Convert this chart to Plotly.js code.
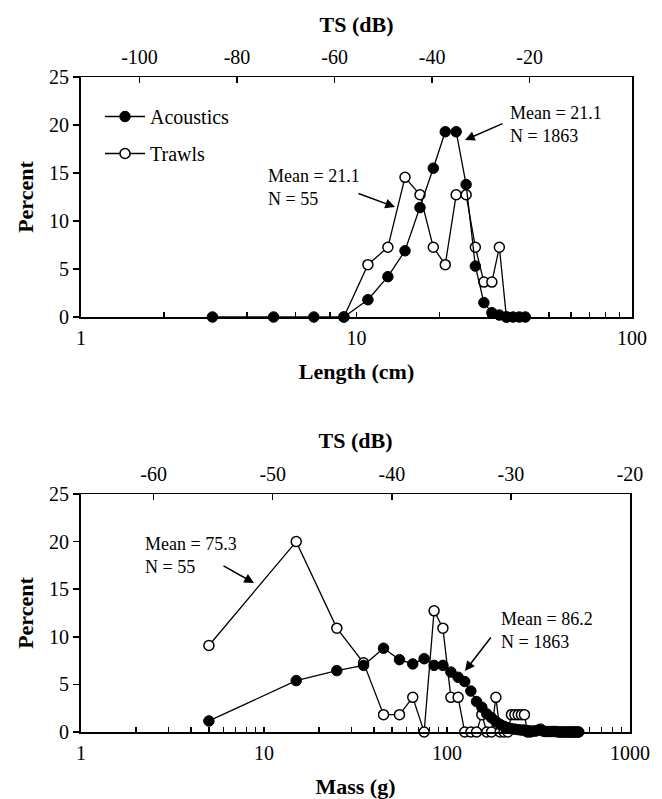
<!DOCTYPE html>
<html><head><meta charset="utf-8">
<script src="https://cdn.plot.ly/plotly-3.0.1.min.js"></script>
<style>body{margin:0;background:#fff}</style>
</head><body><div id="chart" style="width:662px;height:799px"></div>
<script>
// ---- Top panel: length distribution ----
const lengthCm = [3,5,7,9,11,13,15,17,19,21,23,25,27,29,31,33,35,37,39,41];
const lengthAcoustics = [0,0,0,0,1.8,4.2,6.9,11.4,15.5,19.3,19.3,13.8,5.3,1.5,0.45,0.2,0,0,0,0];
const lengthTrawlsCm = [9,11,13,15,17,19,21,23,25,27,29,31,33,35];
const lengthTrawls = [0,5.45,7.27,14.55,12.73,7.27,5.45,12.73,12.73,7.27,3.64,3.64,7.27,0];

// ---- Bottom panel: mass distribution ----
const massG = [5,15,25,35,45,55,65,75,85,95,105,115,125,135,145,155,165,175,185,195,205,215,225,235,245,255,265,275,285,295,305,315,325,335,345,355,365,375,385,395,405,415,425,435,445,455,465,475,485,495,505,515,525];
const massAcoustics = [1.16,5.4,6.45,7.0,8.8,7.6,7.15,7.7,7.0,7.0,6.3,5.75,5.3,4.3,3.2,2.6,1.9,1.5,1.1,0.8,0.6,0.45,0.35,0.3,0.25,0.2,0.2,0.15,0.1,0.1,0.1,0.2,0.3,0.1,0.05,0.05,0.05,0.05,0.05,0.05,0,0,0,0,0,0,0,0,0,0,0,0,0];
const massTrawlsG = [5,15,25,35,45,55,65,75,85,95,105,115,125,135,145,155,165,175,185,195,205,215,225,235,245,255,265,275,285];
const massTrawls = [9.09,20.0,10.91,7.27,1.82,1.82,3.64,0,12.73,10.91,3.64,3.64,0,0,0,1.82,0,0,3.64,0,0,0,1.82,1.82,1.82,1.82,1.82,0,0];

// ---- Tick labels ----
const lengthTickVals = [1,2,3,4,5,6,7,8,9,10,20,30,40,50,60,70,80,90,100];
const lengthTickLabels = ['1','10','100'];
const massTickVals = [1,2,3,4,5,6,7,8,9,10,20,30,40,50,60,70,80,90,100,200,300,400,500,600,700,800,900,1000];
const massTickLabels = ['1','10','100','1000'];
const tsTopTicks = [-100,-80,-60,-40,-20];
const tsTopLabels = ['-100','-80','-60','-40','-20'];
const tsBottomTicks = [-60,-50,-40,-30,-20];
const tsBottomLabels = ['-60','-50','-40','-30','-20'];
const percentTicks = [0,5,10,15,20,25];

const seriesNames = ['Acoustics','Trawls'];
const notes = ['Mean = 21.1<br>N = 55','Mean = 21.1<br>N = 1863','Mean = 75.3<br>N = 55','Mean = 86.2<br>N = 1863'];

const FAM = 'Liberation Serif';
const tickFont = {family:FAM, size:20, color:'#000'};
const titleFont = {family:FAM, size:22, color:'#000', weight:'bold'};
const noteFont = {family:FAM, size:18, color:'#000'};

const W = 662, H = 799, ML = 81, MR = 30;
const PW = W - ML - MR;
const px = x => (x - ML) / PW;
const py = y => 1 - y / H;

const labelsFor = (vals, shown) => vals.map(v => shown.includes(String(v)) ? String(v) : '');

const filled = {symbol:'circle', size:10.5, color:'#000', line:{color:'#000', width:1}};
const open = {symbol:'circle', size:10, color:'#fff', line:{color:'#000', width:1.5}};
const ln = {color:'#000', width:1.3};

const data = [
  {x:lengthTrawlsCm, y:lengthTrawls, name:seriesNames[1], mode:'lines+markers', marker:open, line:ln, xaxis:'x', yaxis:'y', cliponaxis:false, legendrank:2, legendgroup:'b', hoverinfo:'none'},
  {x:lengthCm, y:lengthAcoustics, name:seriesNames[0], mode:'lines+markers', marker:filled, line:ln, xaxis:'x', yaxis:'y', cliponaxis:false, legendrank:1, legendgroup:'a', hoverinfo:'none'},
  {x:massTrawlsG, y:massTrawls, name:seriesNames[1], mode:'lines+markers', marker:open, line:ln, xaxis:'x3', yaxis:'y2', cliponaxis:false, showlegend:false, hoverinfo:'none'},
  {x:massG, y:massAcoustics, name:seriesNames[0], mode:'lines+markers', marker:filled, line:ln, xaxis:'x3', yaxis:'y2', cliponaxis:false, showlegend:false, hoverinfo:'none'},
  {x:[], y:[], xaxis:'x2', yaxis:'y', showlegend:false, hoverinfo:'none'},
  {x:[], y:[], xaxis:'x4', yaxis:'y2', showlegend:false, hoverinfo:'none'}
];

const common = {showgrid:false, zeroline:false, showline:true, linecolor:'#000', tickcolor:'#000', tickfont:tickFont, automargin:false, fixedrange:true};

const layout = {
  width:W, height:H, margin:{l:ML, r:MR, t:0, b:0},
  paper_bgcolor:'#fff', plot_bgcolor:'#fff',
  font:{family:FAM, color:'#000'},
  showlegend:true,
  legend:{x:px(100), y:py(97), xanchor:'left', yanchor:'top', font:{family:FAM, size:20, color:'#000'}, bgcolor:'rgba(0,0,0,0)', traceorder:'grouped', tracegroupgap:8, itemwidth:40},
  xaxis:Object.assign({}, common, {type:'log', range:[0,2], domain:[0,1], anchor:'y', tickmode:'array', tickvals:lengthTickVals, ticktext:labelsFor(lengthTickVals, lengthTickLabels), ticks:'inside', ticklen:5, tickwidth:1.5, linewidth:2, ticklabelstandoff:2, title:{text:'Length (cm)', font:titleFont, standoff:16}}),
  xaxis2:Object.assign({}, common, {overlaying:'x', side:'top', anchor:'y', range:[-112,1], tickmode:'array', tickvals:tsTopTicks, ticktext:tsTopLabels, ticks:'inside', ticklen:6, tickwidth:1.5, linewidth:1.5, ticklabelstandoff:4, title:{text:'TS (dB)', font:titleFont, standoff:7}}),
  yaxis:Object.assign({}, common, {domain:[py(317), py(77)], anchor:'x', range:[0,25], tickmode:'array', tickvals:percentTicks, ticks:'outside', ticklen:6, tickwidth:1.5, linewidth:2, mirror:true, title:{text:'Percent', font:titleFont, standoff:9}}),
  xaxis3:Object.assign({}, common, {type:'log', range:[0,3], domain:[0, px(630)], anchor:'y2', tickmode:'array', tickvals:massTickVals, ticktext:labelsFor(massTickVals, massTickLabels), ticks:'inside', ticklen:5, tickwidth:1.5, linewidth:2, ticklabelstandoff:2, title:{text:'Mass (g)', font:titleFont, standoff:19}}),
  xaxis4:Object.assign({}, common, {overlaying:'x3', side:'top', anchor:'y2', range:[-66.1,-20], tickmode:'array', tickvals:tsBottomTicks, ticktext:tsBottomLabels, ticks:'inside', ticklen:6, tickwidth:1.5, linewidth:1.5, ticklabelstandoff:4, title:{text:'TS (dB)', font:titleFont, standoff:8}}),
  yaxis2:Object.assign({}, common, {domain:[py(732), py(494)], anchor:'x3', range:[0,25], tickmode:'array', tickvals:percentTicks, ticks:'outside', ticklen:6, tickwidth:1.5, linewidth:2, mirror:true, title:{text:'Percent', font:titleFont, standoff:9}}),
  annotations:[
    {xref:'paper', yref:'paper', x:px(266), y:py(187), xanchor:'left', yanchor:'middle', align:'left', text:notes[0], showarrow:false, font:noteFont},
    {xref:'paper', yref:'paper', x:px(508), y:py(124), xanchor:'left', yanchor:'middle', align:'left', text:notes[1], showarrow:false, font:noteFont},
    {xref:'paper', yref:'paper', x:px(143), y:py(555), xanchor:'left', yanchor:'middle', align:'left', text:notes[2], showarrow:false, font:noteFont},
    {xref:'paper', yref:'paper', x:px(499), y:py(630), xanchor:'left', yanchor:'middle', align:'left', text:notes[3], showarrow:false, font:noteFont},
    {xref:'paper', yref:'paper', x:px(395), y:py(207), ax:357-395, ay:193-207, text:'', showarrow:true, arrowhead:2, arrowsize:1.3, arrowwidth:1.5, arrowcolor:'#000'},
    {xref:'paper', yref:'paper', x:px(465), y:py(140), ax:504-465, ay:123-140, text:'', showarrow:true, arrowhead:2, arrowsize:1.3, arrowwidth:1.5, arrowcolor:'#000'},
    {xref:'paper', yref:'paper', x:px(254), y:py(583), ax:222-254, ay:565-583, text:'', showarrow:true, arrowhead:2, arrowsize:1.3, arrowwidth:1.5, arrowcolor:'#000'},
    {xref:'paper', yref:'paper', x:px(465), y:py(671), ax:492-465, ay:636-671, text:'', showarrow:true, arrowhead:2, arrowsize:1.3, arrowwidth:1.5, arrowcolor:'#000'}
  ]
};

Plotly.newPlot('chart', data, layout, {staticPlot:true, displayModeBar:false});
</script>
</body></html>
